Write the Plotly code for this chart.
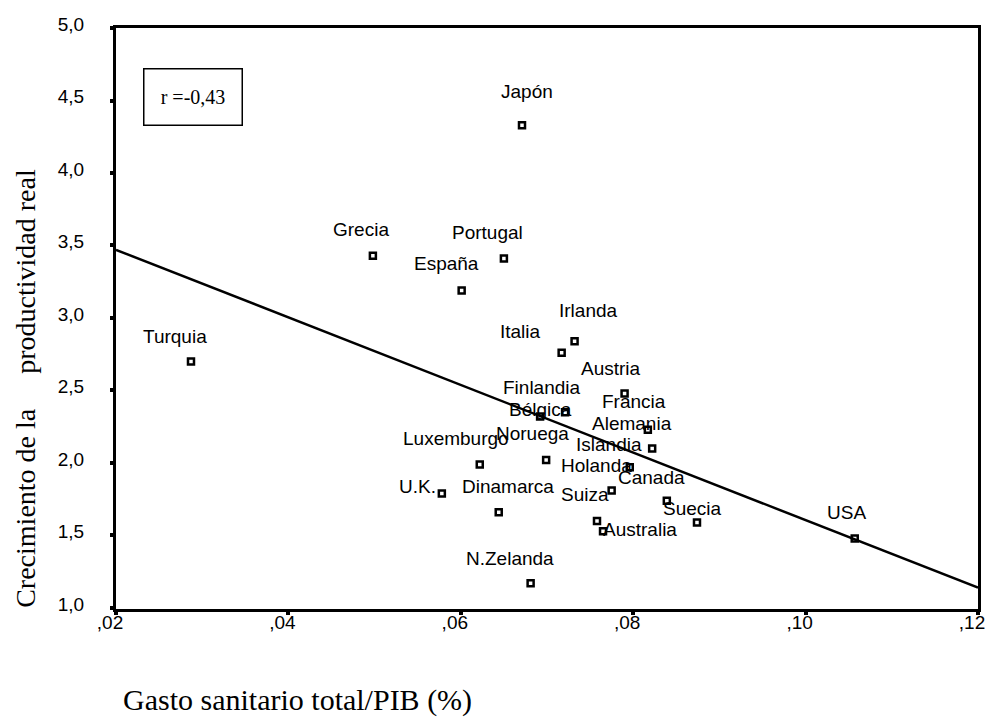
import plotly.graph_objects as go

# ---- data ----
countries = ["Japón", "Grecia", "Portugal", "España", "Turquia", "Irlanda", "Italia",
             "Austria", "Finlandia", "Bélgica", "Francia", "Alemania", "Islandia",
             "Noruega", "Luxemburgo", "Holanda", "Canada", "U.K.", "Dinamarca",
             "Suiza", "Australia", "Suecia", "USA", "N.Zelanda"]
health_spend_gdp = [0.0671, 0.0498, 0.0650, 0.0601, 0.0287, 0.0732, 0.0717,
                    0.0790, 0.0721, 0.0692, 0.0817, 0.0822, 0.0796,
                    0.0699, 0.0622, 0.0775, 0.0839, 0.0578, 0.0644,
                    0.0758, 0.0765, 0.0874, 0.1057, 0.0681]
productivity_growth = [4.33, 3.43, 3.41, 3.19, 2.70, 2.84, 2.76,
                       2.48, 2.35, 2.32, 2.23, 2.10, 1.97,
                       2.02, 1.99, 1.81, 1.74, 1.79, 1.66,
                       1.60, 1.53, 1.59, 1.48, 1.17]

fit_x = [0.02, 0.12]
fit_y = [3.47, 1.14]

x_ticks = [0.02, 0.04, 0.06, 0.08, 0.10, 0.12]
x_ticklabels = [",02", ",04", ",06", ",08", ",10", ",12"]
y_ticks = [1.0, 1.5, 2.0, 2.5, 3.0, 3.5, 4.0, 4.5, 5.0]
y_ticklabels = ["1,0", "1,5", "2,0", "2,5", "3,0", "3,5", "4,0", "4,5", "5,0"]

corr_text = "r =-0,43"
x_title = "Gasto sanitario total/PIB (%)"
y_title = "Crecimiento de la &nbsp;&nbsp;&nbsp; productividad real"

# label placement (pixel offsets of label centre from its point: dx right, dy down)
label_offsets = {
    "Japón": (5, -34), "Grecia": (-12, -26), "Portugal": (-16, -26), "España": (-15, -27),
    "Turquia": (-16, -25), "Irlanda": (14, -31), "Italia": (-41, -21), "Austria": (-14, -25),
    "Finlandia": (-23, -25), "Bélgica": (0, -7), "Francia": (-14, -28), "Alemania": (-20, -25),
    "Islandia": (-21, -23), "Noruega": (-14, -27), "Luxemburgo": (-24, -26), "Holanda": (-15, -25),
    "Canada": (-15, -23), "U.K.": (-24, -7), "Dinamarca": (9, -26), "Suiza": (-12, -26),
    "Australia": (37, -2), "Suecia": (-4, -14), "USA": (-8, -26), "N.Zelanda": (-21, -25),
}

SANS = "Liberation Sans, Arial, sans-serif"
SERIF = "Liberation Serif, Times New Roman, serif"

fig = go.Figure()
fig.add_trace(go.Scatter(x=fit_x, y=fit_y, mode="lines",
                         line=dict(color="black", width=2.5), hoverinfo="skip"))
fig.add_trace(go.Scatter(x=health_spend_gdp, y=productivity_growth, mode="markers",
                         marker=dict(symbol="square-open", size=6, color="black",
                                     line=dict(width=2.5, color="black")),
                         text=countries, hoverinfo="text"))

annotations = []
for name, xv, yv in zip(countries, health_spend_gdp, productivity_growth):
    dx, dy = label_offsets[name]
    annotations.append(dict(x=xv, y=yv, xref="x", yref="y", text=name, showarrow=False,
                            xshift=dx, yshift=-dy, xanchor="center", yanchor="middle",
                            font=dict(family=SANS, size=19, color="black")))

annotations.append(dict(x=0.0899, y=0.882, xref="paper", yref="paper", text=corr_text,
                        showarrow=False, xanchor="center", yanchor="middle",
                        width=97, height=55, bordercolor="black", borderwidth=1.5,
                        borderpad=0, bgcolor="white",
                        font=dict(family=SERIF, size=20, color="black")))
annotations.append(dict(x=0.2106, y=-0.1566, xref="paper", yref="paper", text=x_title,
                        showarrow=False, xanchor="center", yanchor="middle",
                        font=dict(family=SERIF, size=30, color="black")))
annotations.append(dict(x=-0.1044, y=0.379, xref="paper", yref="paper", text=y_title,
                        showarrow=False, xanchor="center", yanchor="middle", textangle=-90,
                        font=dict(family=SERIF, size=28, color="black")))

axis_common = dict(showgrid=False, zeroline=False, showline=True, linecolor="black",
                   linewidth=3, mirror=True, ticks="outside", ticklen=3, tickwidth=4,
                   tickcolor="black", automargin=False,
                   tickfont=dict(family=SANS, size=19, color="black"))

fig.update_layout(
    width=989, height=718,
    margin=dict(l=116, r=11, t=28, b=109),
    paper_bgcolor="white", plot_bgcolor="white",
    showlegend=False,
    xaxis=dict(range=[0.02, 0.12], tickvals=x_ticks, ticktext=x_ticklabels,
               ticklabelstandoff=-9, ticklabelshift=-6, ticklabeloverflow="allow",
               **axis_common),
    yaxis=dict(range=[0.993, 5.0], tickvals=y_ticks, ticktext=y_ticklabels,
               ticklabelstandoff=22, ticklabelshift=-4, **axis_common),
    annotations=annotations,
)

fig.write_html("out.html")
